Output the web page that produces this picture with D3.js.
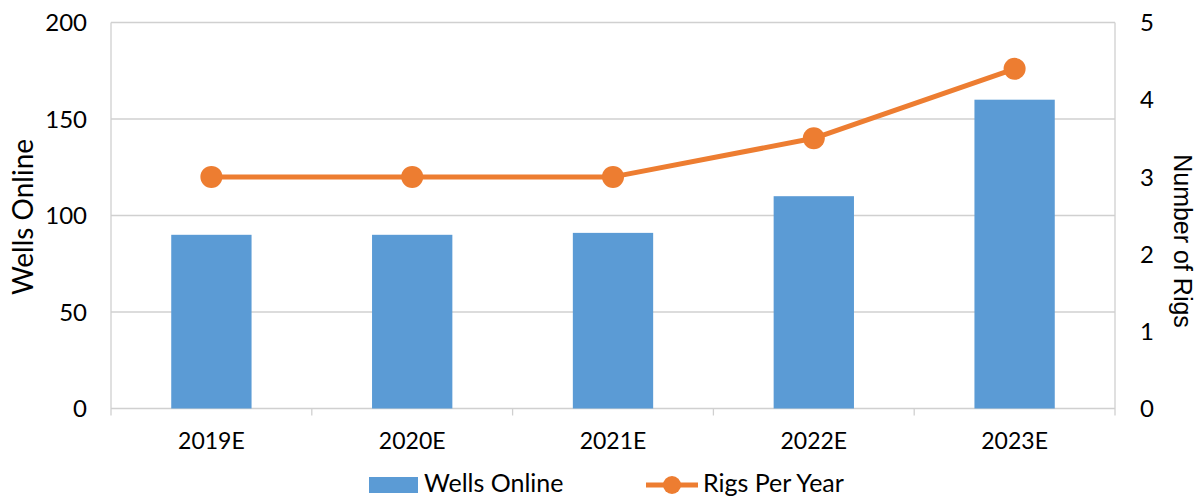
<!DOCTYPE html>
<html><head><meta charset="utf-8">
<script src="https://cdn.jsdelivr.net/npm/d3@7"></script>
<style>body{margin:0;background:#fff;} text{font-family:Lato,"Open Sans",sans-serif;fill:#000;}</style>
</head><body>
<svg id="c" width="1199" height="499"></svg>
<script>
const categories = ["2019E","2020E","2021E","2022E","2023E"];
const wellsOnline = [90, 90, 91, 110, 160];
const rigsPerYear = [3, 3, 3, 3.5, 4.4];
const leftTicks = [0, 50, 100, 150, 200];
const rightTicks = [0, 1, 2, 3, 4, 5];

const svg = d3.select("#c");
const L = 111, R = 1115, T = 22.5, B = 408.5;
const x = d3.scaleBand().domain(categories).range([L, R]).padding(0);
const yL = d3.scaleLinear().domain([0, 200]).range([B, T]);
const yR = d3.scaleLinear().domain([0, 5]).range([B, T]);
const blue = "#5B9BD5", orange = "#ED7D31", grid = "#d0d0d0";

// gridlines
svg.append("g").selectAll("line").data(leftTicks).join("line")
  .attr("x1", L).attr("x2", R).attr("y1", d => yL(d)).attr("y2", d => yL(d))
  .attr("stroke", grid).attr("stroke-width", 1.3);
// left & right axis lines
svg.append("line").attr("x1", L).attr("x2", L).attr("y1", T).attr("y2", B + 7).attr("stroke", grid).attr("stroke-width", 1.3);
svg.append("line").attr("x1", R).attr("x2", R).attr("y1", T).attr("y2", B + 7).attr("stroke", grid).attr("stroke-width", 1.3);
// category tick marks
svg.append("g").selectAll("line").data(categories.slice(1)).join("line")
  .attr("x1", d => x(d)).attr("x2", d => x(d)).attr("y1", B).attr("y2", B + 7)
  .attr("stroke", grid).attr("stroke-width", 1.3);

// bars
const bw = x.bandwidth() * 0.4;
svg.append("g").selectAll("rect").data(categories).join("rect")
  .attr("x", d => x(d) + x.bandwidth() / 2 - bw / 2)
  .attr("width", bw)
  .attr("y", (d, i) => yL(wellsOnline[i]))
  .attr("height", (d, i) => B - yL(wellsOnline[i]))
  .attr("fill", blue);

// line
const line = d3.line().x((d, i) => x(categories[i]) + x.bandwidth() / 2).y(d => yR(d));
svg.append("path").datum(rigsPerYear).attr("d", line).attr("fill", "none")
  .attr("stroke", orange).attr("stroke-width", 5).attr("stroke-linejoin", "round");
svg.append("g").selectAll("circle").data(rigsPerYear).join("circle")
  .attr("cx", (d, i) => x(categories[i]) + x.bandwidth() / 2)
  .attr("cy", d => yR(d)).attr("r", 11).attr("fill", orange);

// left tick labels
svg.append("g").selectAll("text").data(leftTicks).join("text")
  .attr("x", 87).attr("y", d => yL(d)).attr("dy", "0.36em")
  .attr("text-anchor", "end").attr("font-size", 24).text(d => d);
// right tick labels
svg.append("g").selectAll("text").data(rightTicks).join("text")
  .attr("x", 1140).attr("y", d => yR(d)).attr("dy", "0.36em")
  .attr("text-anchor", "start").attr("font-size", 24).text(d => d);
// category labels
svg.append("g").selectAll("text").data(categories).join("text")
  .attr("x", d => x(d) + x.bandwidth() / 2).attr("y", 449)
  .attr("text-anchor", "middle").attr("font-size", 23).text(d => d);

// axis titles
svg.append("text").attr("transform", "translate(33,217) rotate(-90)")
  .attr("text-anchor", "middle").attr("font-size", 28).text("Wells Online");
svg.append("text").attr("transform", "translate(1174,241) rotate(90)")
  .attr("text-anchor", "middle").attr("font-size", 25)
  .style("font-family", "'Liberation Sans', Arial, sans-serif").text("Number of Rigs");

// legend
svg.append("rect").attr("x", 369).attr("y", 477).attr("width", 49).attr("height", 16).attr("fill", blue);
svg.append("text").attr("x", 424).attr("y", 492).attr("font-size", 25).text("Wells Online");
svg.append("line").attr("x1", 646).attr("x2", 698).attr("y1", 485).attr("y2", 485).attr("stroke", orange).attr("stroke-width", 5);
svg.append("circle").attr("cx", 672).attr("cy", 485).attr("r", 9).attr("fill", orange);
svg.append("text").attr("x", 703).attr("y", 492).attr("font-size", 25).text("Rigs Per Year");
</script>
</body></html>
